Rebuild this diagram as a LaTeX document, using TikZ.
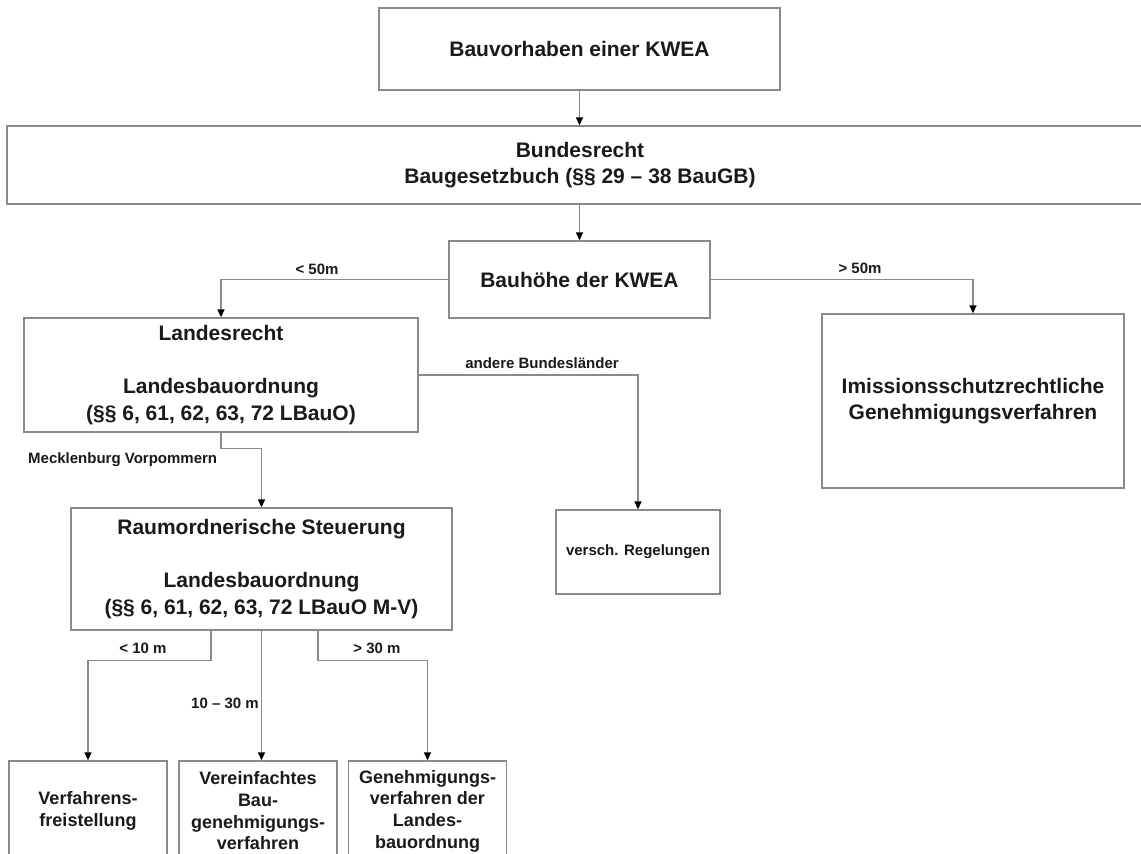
\documentclass[tikz,border=0pt]{standalone}
\usepackage{fontspec}
\setmainfont{Liberation Sans}
\usetikzlibrary{arrows.meta}

\definecolor{linegray}{HTML}{8A8A8A}
\definecolor{textblack}{HTML}{1A1A1A}

\tikzset{
  box/.style={draw=linegray, line width=1.3pt, text=textblack, align=center, inner sep=0pt,
    font=\bfseries\fontsize{21}{26.5}\selectfont},
  lowbox/.style={box, minimum width=158pt, minimum height=100pt,
    font=\bfseries\fontsize{18}{21.7}\selectfont},
  lbl/.style={text=textblack, inner sep=0pt, font=\bfseries\fontsize{15}{18}\selectfont},
  conn/.style={draw=linegray, line width=1.3pt, -{Triangle[length=8pt,width=7pt,color=black]}}
}

\begin{document}
\begin{tikzpicture}[x=1pt, y=-1pt]
  \useasboundingbox[fill=white] (0,0) rectangle (1141,854);

  % Upper chain
  \node[box, minimum width=401pt, minimum height=82pt] (bauvorhaben) at (579.5,49) {Bauvorhaben einer KWEA};
  \node[box, minimum width=1146pt, minimum height=78pt] (bundesrecht) at (580,165)
    {Bundesrecht\\Baugesetzbuch (§§ 29 – 38 BauGB)};
  \node[box, minimum width=261pt, minimum height=77pt] (bauhoehe) at (579.5,279.5) {Bauhöhe der KWEA};

  % Second level
  \node[box, minimum width=394pt, minimum height=114pt] (landesrecht) at (221,375)
    {Landesrecht\\[26.5pt]Landesbauordnung\\(§§ 6, 61, 62, 63, 72 LBauO)};
  \node[box, minimum width=302pt, minimum height=174pt] (immission) at (973,401)
    {Imissionsschutzrechtliche\\Genehmigungsverfahren};
  \node[box, minimum width=164pt, minimum height=84pt, font=\bfseries\fontsize{15}{18}\selectfont] (versch) at (638,552)
    {versch. Regelungen};
  \node[box, minimum width=381pt, minimum height=122pt] (raum) at (261.5,569)
    {Raumordnerische Steuerung\\[26.5pt]Landesbauordnung\\(§§ 6, 61, 62, 63, 72 LBauO M-V)};

  % Bottom row
  \foreach \name/\x/\txt in {
    verfahren/88/{Verfahrens-\\freistellung},
    vereinfacht/258/{Vereinfachtes\\Bau-\\genehmigungs-\\verfahren},
    genehm/427.5/{Genehmigungs-\\verfahren der\\Landes-\\bauordnung}} {
    \node[lowbox] (\name) at (\x,811) {\txt};
  }

  % Connectors
  \draw[conn] (bauvorhaben) -- (bauvorhaben |- bundesrecht.north);
  \draw[conn] (bauhoehe |- bundesrecht.south) -- (bauhoehe);
  \draw[conn] (bauhoehe.west) -| (landesrecht.north);
  \draw[conn] (bauhoehe.east) -| (immission.north);
  \draw[conn] (landesrecht.east) -| (versch.north);
  \draw[conn] (landesrecht.south) -- ++(0,16) -| (raum.north);
  \draw[conn] ([xshift=-50.5pt]raum.south) -- ++(0,30) -| (verfahren.north);
  \draw[conn] (raum.south) -- (raum.south |- vereinfacht.north);
  \draw[conn] ([xshift=56.5pt]raum.south) -- ++(0,30) -| (genehm.north);

  % Labels
  \node[lbl] (klein50) at (317,269) {< 50m};
  \node[lbl] (gross50) at (860,268) {> 50m};
  \node[lbl] (andere) at (542,363) {andere Bundesländer};
  \node[lbl, anchor=west] (mv) at (28,460) {Mecklenburg Vorpommern};
  \node[lbl] (klein10) at (143,648) {< 10 m};
  \node[lbl] (mitte) at (225,703) {10 – 30 m};
  \node[lbl] (gross30) at (377,648) {> 30 m};
\end{tikzpicture}
\end{document}
